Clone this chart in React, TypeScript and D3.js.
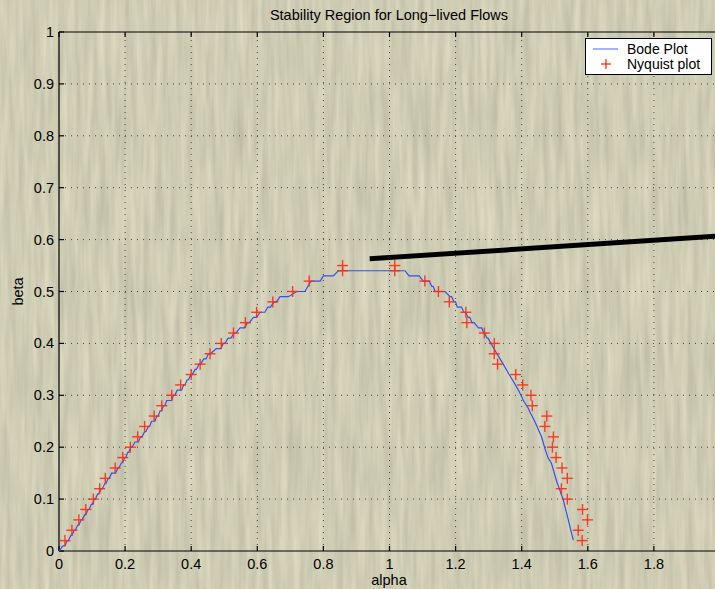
import React from 'react';
import * as d3 from 'd3';

const W = 715;
const H = 589;

const xTicks = [0, 0.2, 0.4, 0.6, 0.8, 1, 1.2, 1.4, 1.6, 1.8, 2];
const yTicks = [0, 0.1, 0.2, 0.3, 0.4, 0.5, 0.6, 0.7, 0.8, 0.9, 1];

// Bode plot: staircase levels (beta, alpha where the level starts, alpha where it ends)
const bodeBeta = [
  0, 0.01, 0.02, 0.03, 0.04, 0.05, 0.06, 0.07, 0.08, 0.09, 0.1, 0.11, 0.12, 0.13, 0.14, 0.15,
  0.16, 0.17, 0.18, 0.19, 0.2, 0.21, 0.22, 0.23, 0.24, 0.25, 0.26, 0.27, 0.28, 0.29, 0.3,
  0.31, 0.32, 0.33, 0.34, 0.35, 0.36, 0.37, 0.38, 0.39, 0.4, 0.41, 0.42, 0.43, 0.44, 0.45,
  0.46, 0.47, 0.48, 0.49, 0.5, 0.52, 0.53, 0.54,
  0.53, 0.52, 0.51, 0.5, 0.49, 0.48, 0.47, 0.46, 0.45, 0.44, 0.43, 0.42, 0.41,
  0.4, 0.38, 0.36, 0.34, 0.32, 0.31, 0.297, 0.29, 0.275, 0.268, 0.249, 0.22, 0.198, 0.179,
  0.169, 0.134, 0.098, 0.06, 0.021,
];
const bodeAlphaStart = [
  0, 0.012, 0.025, 0.036, 0.046, 0.057, 0.067, 0.078, 0.088, 0.098, 0.107, 0.117, 0.128, 0.139, 0.149, 0.159,
  0.178, 0.189, 0.199, 0.208, 0.217, 0.23, 0.247, 0.259, 0.27, 0.28, 0.296, 0.306, 0.316, 0.326, 0.346,
  0.358, 0.377, 0.388, 0.399, 0.412, 0.424, 0.438, 0.452, 0.476, 0.497, 0.512, 0.53, 0.548, 0.57, 0.588,
  0.608, 0.632, 0.65, 0.669, 0.719, 0.762, 0.8, 0.845,
  1.059, 1.102, 1.128, 1.138, 1.183, 1.195, 1.205, 1.225, 1.238, 1.25, 1.269, 1.285, 1.295,
  1.307, 1.325, 1.344, 1.362, 1.381, 1.39, 1.4, 1.405, 1.42, 1.425, 1.44, 1.46, 1.47, 1.48,
  1.49, 1.506, 1.526, 1.541, 1.556,
];
const bodeAlphaEnd = [
  0, 0.018, 0.028, 0.039, 0.049, 0.06, 0.07, 0.081, 0.091, 0.101, 0.11, 0.12, 0.131, 0.142, 0.152, 0.171,
  0.181, 0.192, 0.202, 0.211, 0.221, 0.24, 0.251, 0.263, 0.274, 0.29, 0.3, 0.31, 0.32, 0.341, 0.35,
  0.371, 0.381, 0.392, 0.403, 0.416, 0.428, 0.445, 0.458, 0.49, 0.502, 0.52, 0.535, 0.561, 0.576, 0.598,
  0.623, 0.64, 0.658, 0.694, 0.744, 0.79, 0.83, 1.047,
  1.09, 1.12, 1.132, 1.168, 1.188, 1.2, 1.218, 1.23, 1.243, 1.256, 1.279, 1.288, 1.298,
  1.307, 1.325, 1.344, 1.362, 1.381, 1.39, 1.4, 1.405, 1.42, 1.425, 1.44, 1.46, 1.47, 1.48,
  1.49, 1.506, 1.526, 1.541, 1.556,
];

// Nyquist plot markers
const nyqAlpha = [
  0.018, 0.039, 0.06, 0.081, 0.104, 0.123, 0.14, 0.17, 0.193, 0.216, 0.238, 0.259, 0.288, 0.311, 0.341,
  0.368, 0.4, 0.427, 0.457, 0.491, 0.528, 0.564, 0.598, 0.647, 0.707, 0.757, 0.858, 0.858, 1.016, 1.016,
  1.107, 1.148, 1.181, 1.231, 1.234, 1.287, 1.317, 1.317, 1.327, 1.382, 1.403, 1.428, 1.432, 1.476, 1.47,
  1.496, 1.493, 1.504, 1.522, 1.538, 1.52, 1.538, 1.584, 1.599, 1.571, 1.583,
];
const nyqBeta = [
  0.02, 0.04, 0.06, 0.08, 0.1, 0.12, 0.14, 0.16, 0.18, 0.2, 0.22, 0.24, 0.26, 0.28, 0.3,
  0.32, 0.34, 0.36, 0.38, 0.4, 0.42, 0.44, 0.46, 0.48, 0.5, 0.52, 0.54, 0.55, 0.55, 0.54,
  0.52, 0.5, 0.48, 0.46, 0.44, 0.42, 0.4, 0.38, 0.36, 0.34, 0.32, 0.3, 0.28, 0.26, 0.24,
  0.22, 0.2, 0.18, 0.16, 0.14, 0.12, 0.1, 0.08, 0.06, 0.04, 0.02,
];

// hand-drawn annotation stroke (alpha, beta)
const annotAlpha = [0.94, 2.0];
const annotBeta = [0.563, 0.607];

const legendLabels = ['Bode Plot', 'Nyquist plot'];

const FONT = '"Liberation Sans", Arial, Helvetica, sans-serif';
const BLUE = '#2f52f5';
const RED = '#ff2a10';

export default function App() {
  const x = d3.scaleLinear().domain([0, 2]).range([59, 720]);
  const y = d3.scaleLinear().domain([0, 1]).range([551, 32]);

  const bodePts: [number, number][] = [];
  bodeBeta.forEach((b, i) => {
    bodePts.push([bodeAlphaStart[i], b]);
    if (bodeAlphaEnd[i] !== bodeAlphaStart[i]) bodePts.push([bodeAlphaEnd[i], b]);
  });
  const line = d3
    .line<[number, number]>()
    .x((d) => x(d[0]))
    .y((d) => y(d[1]));

  const fmt = (v: number) => String(+v.toFixed(1));
  const [x0, x1] = x.range();
  const [y0, y1] = y.range();
  const tickLen = 5;
  const m = 5.5;

  return (
    <svg
      width={W}
      height={H}
      style={{ position: 'absolute', left: 0, top: 0, display: 'block' }}
      xmlns="http://www.w3.org/2000/svg"
    >
      <defs>
        <filter
          id="tex"
          x="0"
          y="0"
          width={W}
          height={H}
          filterUnits="userSpaceOnUse"
          colorInterpolationFilters="sRGB"
        >
          <feTurbulence type="fractalNoise" baseFrequency="0.16 0.012" numOctaves={3} seed={7} />
          <feColorMatrix
            type="matrix"
            values="0.16 0 0 0 0.73  0.16 0 0 0 0.72  0.14 0 0 0 0.635  0 0 0 0 1"
          />
        </filter>
        <clipPath id="clip">
          <rect x={0} y={0} width={W} height={H} />
        </clipPath>
      </defs>
      <rect x={0} y={0} width={W} height={H} fill="#cfcdb3" />
      <rect x={0} y={0} width={W} height={H} filter="url(#tex)" />

      {/* grid */}
      <g stroke="#222" strokeWidth={1} strokeDasharray="1,5" opacity={0.8}>
        {xTicks
          .filter((t) => t > 0 && t < 2)
          .map((t) => (
            <line key={'gx' + t} x1={x(t)} x2={x(t)} y1={y0} y2={y1} />
          ))}
        {yTicks
          .filter((t) => t > 0 && t < 1)
          .map((t) => (
            <line key={'gy' + t} x1={x0} x2={x1} y1={y(t)} y2={y(t)} />
          ))}
      </g>

      {/* axes box */}
      <g stroke="#000" strokeWidth={1.2} fill="none">
        <line x1={x0} x2={x1} y1={y0} y2={y0} />
        <line x1={x0} x2={x1} y1={y1} y2={y1} />
        <line x1={x0} x2={x0} y1={y0} y2={y1} />
        <line x1={x1} x2={x1} y1={y0} y2={y1} />
        {xTicks.map((t) => (
          <g key={'tx' + t}>
            <line x1={x(t)} x2={x(t)} y1={y0} y2={y0 - tickLen} />
            <line x1={x(t)} x2={x(t)} y1={y1} y2={y1 + tickLen} />
          </g>
        ))}
        {yTicks.map((t) => (
          <line key={'ty' + t} x1={x0} x2={x0 + tickLen} y1={y(t)} y2={y(t)} />
        ))}
      </g>

      {/* tick labels (the label at 2 lies beyond the picture's right edge) */}
      <g fontFamily={FONT} fontSize={14.5} fill="#000">
        {xTicks
          .filter((t) => x(t) < W - 8)
          .map((t) => (
            <text key={'lx' + t} x={x(t)} y={y0 + 18} textAnchor="middle">
              {fmt(t)}
            </text>
          ))}
        {yTicks.map((t) => (
          <text key={'ly' + t} x={x0 - 5} y={y(t) + 5} textAnchor="end">
            {fmt(t)}
          </text>
        ))}
      </g>

      {/* labels */}
      <text x={389} y={20} textAnchor="middle" fontFamily={FONT} fontSize={14.5}>
        Stability Region for Long−lived Flows
      </text>
      <text x={389} y={585} textAnchor="middle" fontFamily={FONT} fontSize={14.5}>
        alpha
      </text>
      <text
        transform={`translate(23,${y(0.5)}) rotate(-90)`}
        textAnchor="middle"
        fontFamily={FONT}
        fontSize={14.5}
      >
        beta
      </text>

      {/* Bode line */}
      <path d={line(bodePts) || ''} fill="none" stroke={BLUE} strokeWidth={1.2} />

      {/* Nyquist markers */}
      <g stroke={RED} strokeWidth={1.4} opacity={0.9}>
        {nyqAlpha.map((a, i) => {
          const cx = x(a);
          const cy = y(nyqBeta[i]);
          return (
            <g key={'n' + i}>
              <line x1={cx - m} x2={cx + m} y1={cy} y2={cy} />
              <line x1={cx} x2={cx} y1={cy - m} y2={cy + m} />
            </g>
          );
        })}
      </g>

      {/* annotation stroke */}
      <g clipPath="url(#clip)">
        <line
          x1={x(annotAlpha[0])}
          y1={y(annotBeta[0])}
          x2={x(annotAlpha[1])}
          y2={y(annotBeta[1])}
          stroke="#000"
          strokeWidth={5}
        />
      </g>

      {/* legend */}
      <g>
        <rect x={585.5} y={38.5} width={126} height={36} fill="#fff" stroke="#000" strokeWidth={1} />
        <line x1={593} x2={618} y1={49} y2={49} stroke="#6f8cff" strokeWidth={1.3} />
        <line x1={601} x2={611} y1={64} y2={64} stroke={RED} strokeWidth={1.3} />
        <line x1={606} x2={606} y1={59} y2={69} stroke={RED} strokeWidth={1.3} />
        <text x={627} y={54} fontFamily={FONT} fontSize={14}>
          {legendLabels[0]}
        </text>
        <text x={627} y={69} fontFamily={FONT} fontSize={14}>
          {legendLabels[1]}
        </text>
      </g>
    </svg>
  );
}
